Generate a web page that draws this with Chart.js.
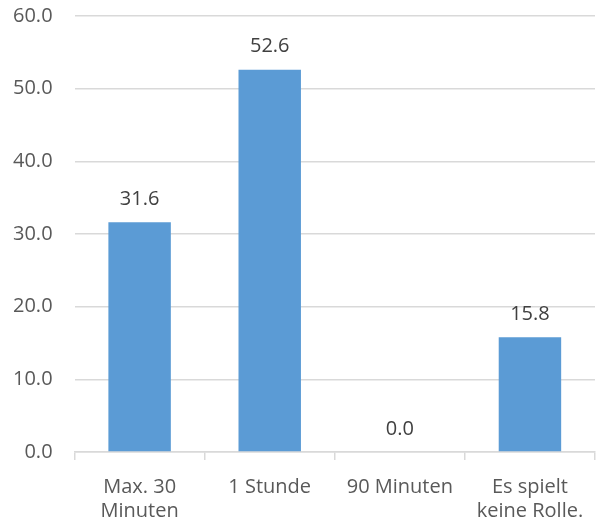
<!DOCTYPE html>
<html>
<head>
<meta charset="utf-8">
<script src="https://cdn.jsdelivr.net/npm/chart.js@4/dist/chart.umd.min.js"></script>
<style>
  html, body { margin: 0; padding: 0; background: #fff; }
  #wrap { width: 605px; height: 526px; }
</style>
</head>
<body>
<div id="wrap"><canvas id="chart"></canvas></div>
<script>
const categories = [["Max. 30", "Minuten"], "1 Stunde", "90 Minuten", ["Es spielt", "keine Rolle."]];
const values = [31.6, 52.6, 0.0, 15.8];

const FONT = "'Open Sans', 'Liberation Sans', sans-serif";

// value labels above each bar
const barLabels = {
    id: 'barLabels',
    afterDatasetsDraw(chart) {
        const ctx = chart.ctx;
        const meta = chart.getDatasetMeta(0);
        ctx.save();
        ctx.font = "20px " + FONT;
        ctx.fillStyle = '#404040';
        ctx.textAlign = 'center';
        ctx.textBaseline = 'middle';
        meta.data.forEach((bar, i) => {
            ctx.fillText(values[i].toFixed(1), bar.x, bar.y - 23);
        });
        ctx.restore();
    }
};

new Chart(document.getElementById('chart'), {
    type: 'bar',
    data: {
        labels: categories,
        datasets: [{
            data: values,
            backgroundColor: '#5B9BD5',
            categoryPercentage: 1,
            barPercentage: 0.48
        }]
    },
    options: {
        responsive: true,
        maintainAspectRatio: false,
        animation: { duration: 0 },
        layout: { padding: { top: 16, right: 10, left: 13, bottom: -12 } },
        plugins: {
            legend: { display: false },
            tooltip: { enabled: false }
        },
        scales: {
            x: {
                grid: {
                    offset: true,
                    drawOnChartArea: false,
                    color: '#d9d9d9',
                    lineWidth: 1.5,
                    tickLength: 8
                },
                border: { color: '#d9d9d9', width: 1.5 },
                ticks: {
                    color: '#595959',
                    font: { family: FONT, size: 20, lineHeight: 1.2 },
                    padding: 15,
                    maxRotation: 0
                }
            },
            y: {
                min: 0,
                max: 60,
                ticks: {
                    stepSize: 10,
                    color: '#595959',
                    font: { family: FONT, size: 20 },
                    padding: 0,
                    callback: v => v.toFixed(1)
                },
                grid: {
                    color: '#d9d9d9',
                    lineWidth: 1.5,
                    tickLength: 22,
                    tickColor: 'rgba(0,0,0,0)'
                },
                border: { display: false }
            }
        }
    },
    plugins: [barLabels]
});
</script>
</body>
</html>
